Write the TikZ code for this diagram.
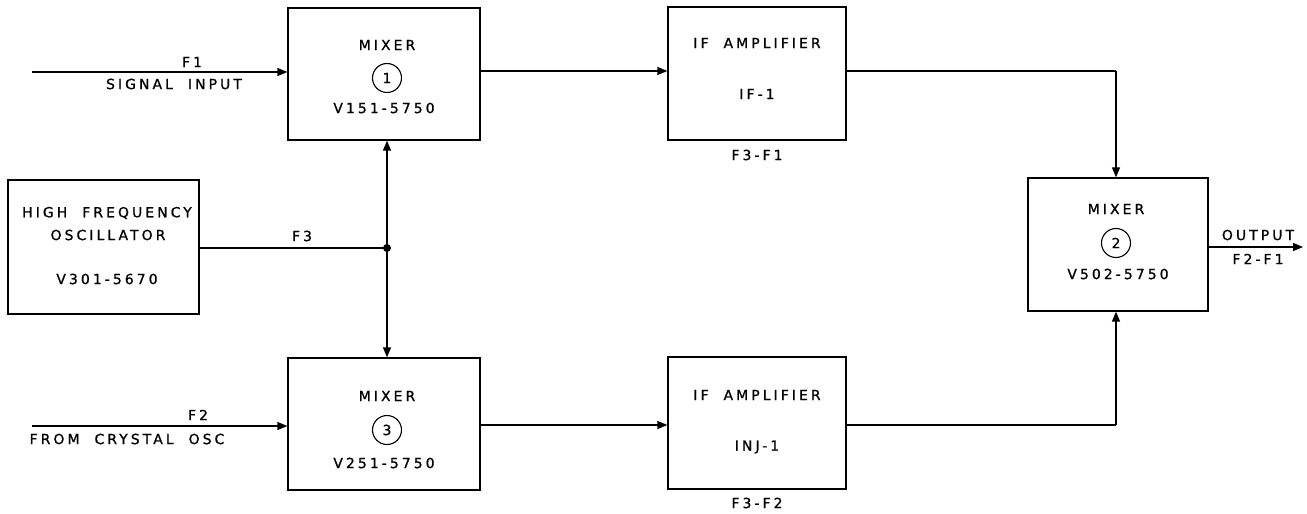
\documentclass[tikz,border=0pt]{standalone}
\usepackage{fontspec}
\setmainfont{DejaVu Sans}[LetterSpace=22,FakeBold=1,WordSpace=2]
\usetikzlibrary{arrows.meta}
\begin{document}
\begin{tikzpicture}[x=1bp,y=-1bp,
  blk/.style={draw,line width=1.3bp,inner sep=0pt},
  lbl/.style={inner sep=0pt,font=\fontsize{14}{14}\selectfont},
  num/.style={draw,circle,line width=1.1bp,minimum size=29bp,inner sep=0pt,font=\fontsize{14}{14}\selectfont},
  wire/.style={line width=1.3bp},
  arr/.style={wire,-{Triangle[length=10bp,width=8bp]}},
  dot/.style={circle,fill,inner sep=0pt,minimum size=8bp}]
\useasboundingbox (0,0) rectangle (1307,514);
% boxes
\node[blk,minimum width=192bp,minimum height=132bp] (m1) at (384,74) {};
\node[blk,minimum width=178bp,minimum height=133bp] (if1) at (757,73.5) {};
\node[blk,minimum width=191bp,minimum height=134bp] (hfo) at (103.5,247) {};
\node[blk,minimum width=180bp,minimum height=133bp] (m2) at (1118,244.5) {};
\node[blk,minimum width=192bp,minimum height=132bp] (m3) at (384,424) {};
\node[blk,minimum width=178bp,minimum height=132bp] (if2) at (757,423) {};
% box texts
\node[lbl] (m1a) at (387,45) {MIXER};
\node[num] (m1n) at (387,78) {1};
\node[lbl] (m1b) at (384,108) {V151-5750};
\node[lbl] (if1a) at (757,43) {IF AMPLIFIER};
\node[lbl] (if1b) at (757,94) {IF-1};
\node[lbl] (if1c) at (757,155) {F3-F1};
\node[lbl] (hfoa) at (107,213) {HIGH FREQUENCY};
\node[lbl] (hfob) at (108,235) {OSCILLATOR};
\node[lbl] (hfoc) at (107,279) {V301-5670};
\node[lbl] (m2a) at (1116,209) {MIXER};
\node[num] (m2n) at (1116,243) {2};
\node[lbl] (m2b) at (1118,274) {V502-5750};
\node[lbl] (m3a) at (387,396) {MIXER};
\node[num] (m3n) at (387,430) {3};
\node[lbl] (m3b) at (384,463) {V251-5750};
\node[lbl] (if2a) at (757,395) {IF AMPLIFIER};
\node[lbl] (if2b) at (757,447) {INJ-1};
\node[lbl] (if2c) at (757,503) {F3-F2};
% input labels
\node[lbl] (f1) at (192,62) {F1};
\node[lbl] (si) at (174,84) {SIGNAL INPUT};
\node[lbl] (f2) at (198,415) {F2};
\node[lbl] (fc) at (127,439) {FROM CRYSTAL OSC};
\node[lbl] (f3) at (302,236) {F3};
\node[lbl] (out) at (1258,235) {OUTPUT};
\node[lbl] (f21) at (1258,259) {F2-F1};
% coordinates
\coordinate (s1) at (32,72);
\coordinate (s3) at (32,426);
\coordinate (j) at (387,248);
\coordinate (o) at (1303,247);
\coordinate (r1) at (1116,71);
\coordinate (r2) at (1116,425);
% connectors
\draw[arr] (s1) -- (s1 -| m1.west);
\draw[arr] (s3) -- (s3 -| m3.west);
\draw[arr] (m1.east |- 0,71) -- (if1.west |- 0,71);
\draw[arr] (m3.east |- 0,425) -- (if2.west |- 0,425);
\draw[wire] (hfo.east |- j) -- (j);
\node[dot] (jd) at (j) {};
\draw[arr] (j) -- (j |- m1.south);
\draw[arr] (j) -- (j |- m3.north);
\draw[wire] (if1.east |- r1) -- (r1);
\draw[arr] (r1) -- (r1 |- m2.north);
\draw[wire] (if2.east |- r2) -- (r2);
\draw[arr] (r2) -- (r2 |- m2.south);
\draw[arr] (m2.east |- o) -- (o);
\end{tikzpicture}
\end{document}
